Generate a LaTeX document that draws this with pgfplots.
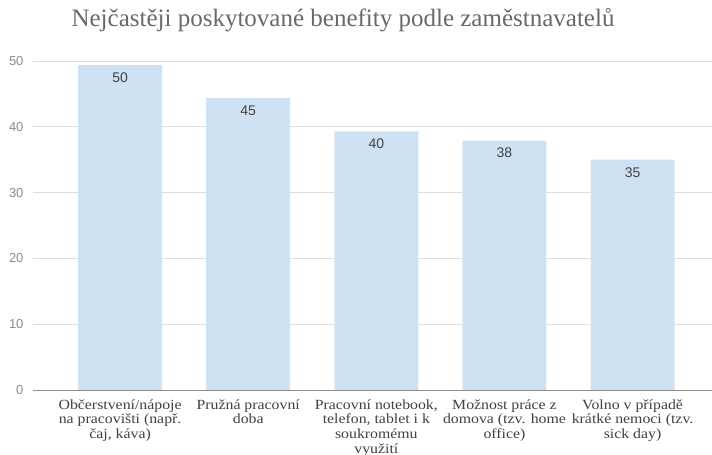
\documentclass[border=0pt]{standalone}
\usepackage{pgfplots}
\pgfplotsset{compat=1.18}
\usepackage{fontspec}
\setmainfont{Liberation Serif}
\newfontfamily\sansf{Liberation Sans}
\definecolor{barblue}{RGB}{207,226,243}
\definecolor{gridc}{RGB}{222,222,222}
\definecolor{axisc}{RGB}{140,140,140}
\definecolor{titlec}{RGB}{105,105,105}
\definecolor{labc}{RGB}{65,65,65}
\begin{document}
\begin{tikzpicture}[x=1pt,y=1pt]
\useasboundingbox (0,0) rectangle (712,455);
\begin{axis}[
  at={(33pt,65pt)}, anchor=south west,
  scale only axis, width=679pt, height=329pt,
  xmin=-0.68, xmax=4.62, ymin=0, ymax=50,
  axis line style={draw=none},
  ybar, bar width=84pt,
  ytick={0,10,20,30,40,50},
  ymajorgrids, grid style={gridc, line width=0.8pt},
  major tick length=0pt,
  xtick={0,1,2,3,4},
  xticklabels={{Občerstvení/nápoje\\na pracovišti (např.\\čaj, káva)},
               {Pružná pracovní\\doba},
               {Pracovní notebook,\\telefon, tablet i k\\soukromému\\využití},
               {Možnost práce z\\domova (tzv. home\\office)},
               {Volno v případě\\krátké nemoci (tzv.\\sick day)}},
  xticklabel style={align=center, font=\fontsize{14}{14.6}\selectfont, text=labc, anchor=north, yshift=-6pt, xscale=1.13},
  yticklabel style={font=\sansf\fontsize{13}{15}\selectfont, text=axisc, anchor=east, xshift=-6pt},
  /pgf/number format/assume math mode=true,
  nodes near coords={\pgfplotspointmeta},
  point meta=explicit symbolic,
  every node near coord/.append style={anchor=north, yshift=-4pt, font=\sansf\fontsize{14}{16}\selectfont, text=labc},
  clip=false,
]
\addplot[fill=barblue, draw=none] coordinates {
  (0,49.4) [50]
  (1,44.4) [45]
  (2,39.3) [40]
  (3,37.9) [38]
  (4,35.0) [35]
};
\draw[axisc, line width=0.9pt] (axis cs:-0.68,0) -- (axis cs:4.62,0);
\end{axis}
\node[anchor=base, text=titlec, font=\fontsize{25}{27}\selectfont] at (343,428) {Nejčastěji poskytované benefity podle zaměstnavatelů};
\end{tikzpicture}
\end{document}
